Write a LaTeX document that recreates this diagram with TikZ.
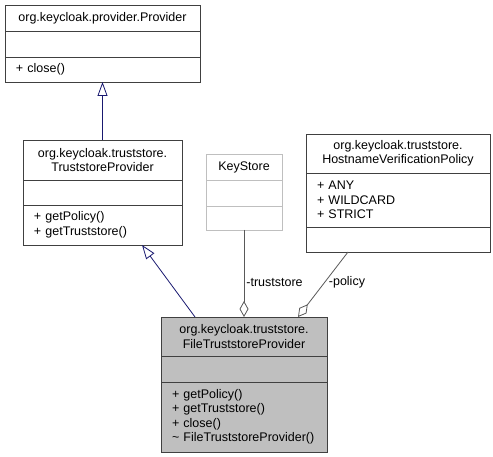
\documentclass[tikz,border=0pt]{standalone}
\usepackage{fontspec}
\setmainfont{Liberation Sans}
\usetikzlibrary{positioning,arrows.meta}
\definecolor{edgeblue}{HTML}{191970}
\definecolor{boxgray}{HTML}{BFBFBF}
\begin{document}
\begin{tikzpicture}[x=1pt,y=-1pt]

% definitions
\tikzstyle{compartment} = [rectangle, draw=black!75, line width=0.8pt, fill=white, text=black, inner xsep=11pt, inner ysep=0pt, outer sep=0pt, font=\fontsize{12.5}{14.5}\selectfont]
\tikzstyle{classname} = [compartment, align=center, anchor=north west]
\tikzstyle{members} = [compartment, align=left, below=0pt of #1]
\tikzstyle{undocumented} = [draw=boxgray, text=black, font=\fontsize{12.5}{14.5}\selectfont\color{black}]
\tikzstyle{current} = [fill=boxgray]
\tikzstyle{inherit} = [edgeblue, line width=0.8pt, -{Triangle[open,length=14pt,width=10pt]}]
\tikzstyle{aggregate} = [black!65, line width=0.8pt, -{Diamond[open,length=16pt,width=9pt]}]
\tikzstyle{role} = [text=black, font=\fontsize{12.5}{14.5}\selectfont, inner sep=2pt]

\useasboundingbox (0,0) rectangle (493,457);

% Provider
\node (ptitle) [classname, minimum width=195pt, text width=173pt, minimum height=26pt] at (5,5) {org.keycloak.provider.Provider};
\node (pattrs) [members=ptitle, minimum width=195pt, text width=173pt, minimum height=26pt] {};
\node (pmethods) [members=pattrs, minimum width=195pt, text width=173pt, minimum height=25pt] {+ close()};

% TruststoreProvider
\node (tptitle) [classname, minimum width=159pt, text width=137pt, minimum height=40pt] at (23,140) {org.keycloak.truststore.\\TruststoreProvider};
\node (tpattrs) [members=tptitle, minimum width=159pt, text width=137pt, minimum height=25pt] {};
\node (tpmethods) [members=tpattrs, minimum width=159pt, text width=137pt, minimum height=40pt] {+ getPolicy()\\+ getTruststore()};

% KeyStore
\node (kstitle) [classname, undocumented, minimum width=76pt, text width=54pt, minimum height=26pt] at (206,154) {KeyStore};
\node (ksattrs) [members=kstitle, undocumented, minimum width=76pt, text width=54pt, minimum height=26pt] {};
\node (ksmethods) [members=ksattrs, undocumented, minimum width=76pt, text width=54pt, minimum height=24pt] {};

% HostnameVerificationPolicy
\node (hvtitle) [classname, minimum width=184pt, text width=162pt, minimum height=39pt] at (306,134) {org.keycloak.truststore.\\HostnameVerificationPolicy};
\node (hvattrs) [members=hvtitle, minimum width=184pt, text width=162pt, minimum height=54pt] {+ ANY\\+ WILDCARD\\+ STRICT};
\node (hvmethods) [members=hvattrs, minimum width=184pt, text width=162pt, minimum height=25pt] {};

% FileTruststoreProvider
\node (ftitle) [classname, current, minimum width=166pt, text width=144pt, minimum height=39pt] at (161,317) {org.keycloak.truststore.\\FileTruststoreProvider};
\node (fattrs) [members=ftitle, current, minimum width=166pt, text width=144pt, minimum height=26pt] {};
\node (fmethods) [members=fattrs, current, minimum width=166pt, text width=144pt, minimum height=70pt] {+ getPolicy()\\+ getTruststore()\\+ close()\\\textasciitilde{} FileTruststoreProvider()};

% connectors
\draw [inherit] (tptitle) -- (pmethods);
\draw [inherit] ([xshift=34pt]ftitle.north west) -- ([xshift=119pt]tpmethods.south west);
\draw [aggregate] (ksmethods) -- node (tslabel) [role, right, pos=0.6] {-truststore} (ftitle);
\draw [aggregate] ([xshift=42pt]hvmethods.south west) -- node (polabel) [role, right, pos=0.47, xshift=2pt] {-policy} ([xshift=137pt]ftitle.north west);

\end{tikzpicture}
\end{document}
